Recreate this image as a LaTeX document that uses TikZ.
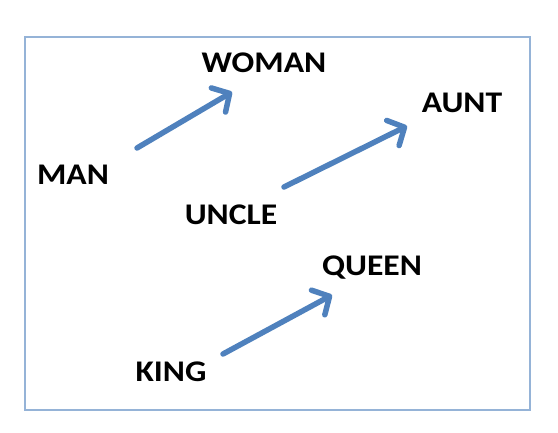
\documentclass[tikz,border=0pt]{standalone}
\usepackage{fontspec}
\setmainfont{Carlito}
\usetikzlibrary{arrows.meta}
\definecolor{arrowblue}{HTML}{4F81BD}
\definecolor{framecol}{HTML}{95B3D7}
\tikzset{
  word/.style={font=\fontsize{30}{33}\selectfont\bfseries, text=black, inner sep=0pt, xscale=1.12},
  vec/.style={draw=arrowblue, line width=5.5pt, line cap=round,
    -{Straight Barb[length=13pt, width=28pt, line cap=round, line join=round]}},
}
\begin{document}
\begin{tikzpicture}[x=1pt,y=-1pt]
\useasboundingbox (0,0) rectangle (558,432);
\draw[framecol, line width=1.5pt] (25,37) rectangle (530,410);
\node[word] (woman) at (264,63) {WOMAN};
\node[word] (man) at (73,175) {MAN};
\node[word] (uncle) at (231,215) {UNCLE};
\node[word] (aunt) at (462,103) {AUNT};
\node[word] (queen) at (372,268) {QUEEN};
\node[word] (king) at (171,372) {KING};
\coordinate (manS) at (137,148);
\coordinate (manE) at (232,92);
\coordinate (uncleS) at (284,187);
\coordinate (uncleE) at (407,126);
\coordinate (kingS) at (223,354);
\coordinate (kingE) at (332,295);
\draw[vec] (manS) -- (manE);
\draw[vec] (uncleS) -- (uncleE);
\draw[vec] (kingS) -- (kingE);
\end{tikzpicture}
\end{document}
